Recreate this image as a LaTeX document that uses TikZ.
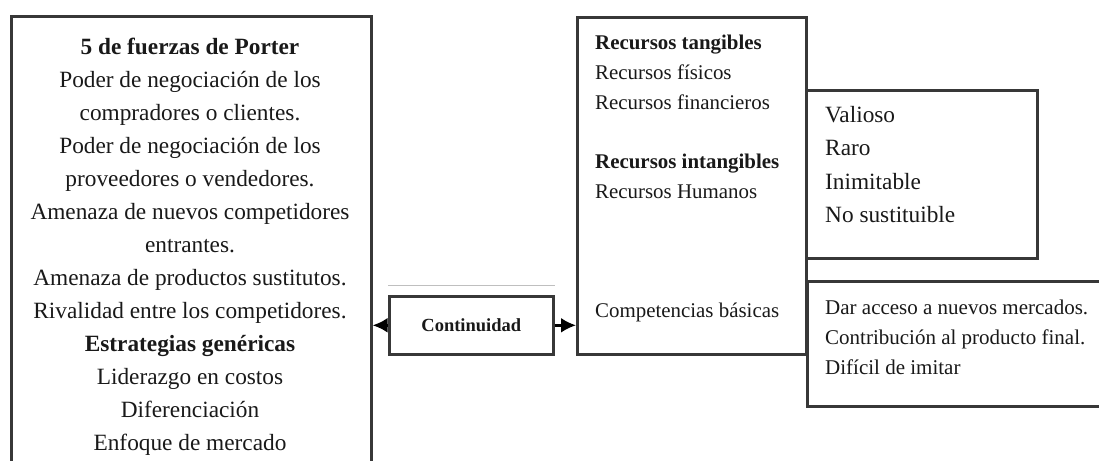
\documentclass[tikz,border=0pt]{standalone}
\usepackage{fontspec}
\setmainfont{Liberation Serif}
\usetikzlibrary{arrows.meta}

\tikzset{
  frame/.style={draw=black!78, line width=2.6pt, rectangle, inner sep=0pt, anchor=north west},
  txt/.style={inner sep=0pt, text=black!90},
  link/.style={draw=black, line width=2.6pt, -{Latex[length=15pt,width=15pt]}},
}

\begin{document}
\begin{tikzpicture}[x=1pt, y=-1pt]
  \useasboundingbox (0,0) rectangle (1099,460);
  \fill[white] (0,0) rectangle (1099,460);
  \clip (0,0) rectangle (1099,460);

  % boxes
  \node[frame, minimum width=360pt, minimum height=480pt] (porter) at (10,15) {};
  \node[frame, minimum width=164pt, minimum height=58pt] (cont) at (388,295) {};
  \node[frame, minimum width=229pt, minimum height=337pt] (rec) at (576,16) {};
  \node[frame, minimum width=231pt, minimum height=168pt] (vrin) at (805,89) {};
  \node[frame, minimum width=320pt, minimum height=125pt] (comp) at (806,280) {};

  % thin rule over the central box
  \draw[black!25, line width=1pt] ([yshift=10pt]cont.north west) -- ([yshift=10pt]cont.north east);

  % left column text
  \node[txt, align=center, anchor=north,
        font=\fontsize{23.3}{33.0}\selectfont] (porterText) at (190,38)
  {\textbf{5 de fuerzas de Porter}\\
   Poder de negociación de los\\
   compradores o clientes.\\
   Poder de negociación de los\\
   proveedores o vendedores.\\
   Amenaza de nuevos competidores\\
   entrantes.\\
   Amenaza de productos sustitutos.\\
   Rivalidad entre los competidores.\\
   \textbf{Estrategias genéricas}\\
   Liderazgo en costos\\
   Diferenciación\\
   Enfoque de mercado};

  % central label
  \node[txt, font=\bfseries\fontsize{18.5}{22}\selectfont] (contText) at (cont.center) {Continuidad};

  % resources
  \node[txt, align=left, anchor=north west,
        font=\fontsize{20.9}{29.8}\selectfont] (recText) at (595,35)
  {\textbf{Recursos tangibles}\\
   Recursos físicos\\
   Recursos financieros\\[29.8pt]
   \textbf{Recursos intangibles}\\
   Recursos Humanos};
  \node[txt, anchor=west, font=\fontsize{20.9}{29.8}\selectfont] (compText) at (595,312)
  {Competencias básicas};

  % VRIN attributes
  \node[txt, align=left, anchor=north west,
        font=\fontsize{23.3}{33.5}\selectfont] (vrinText) at (825,106)
  {Valioso\\Raro\\Inimitable\\No sustituible};

  % core competence criteria
  \node[txt, align=left, anchor=north west,
        font=\fontsize{21}{29.8}\selectfont] (compList) at (825,300)
  {Dar acceso a nuevos mercados.\\
   Contribución al producto final.\\
   Difícil de imitar};

  % connectors
  \draw[link] (cont.west) -- (cont.west -| porter.east);
  \draw[link] (cont.east) -- (cont.east -| rec.west);
\end{tikzpicture}
\end{document}
